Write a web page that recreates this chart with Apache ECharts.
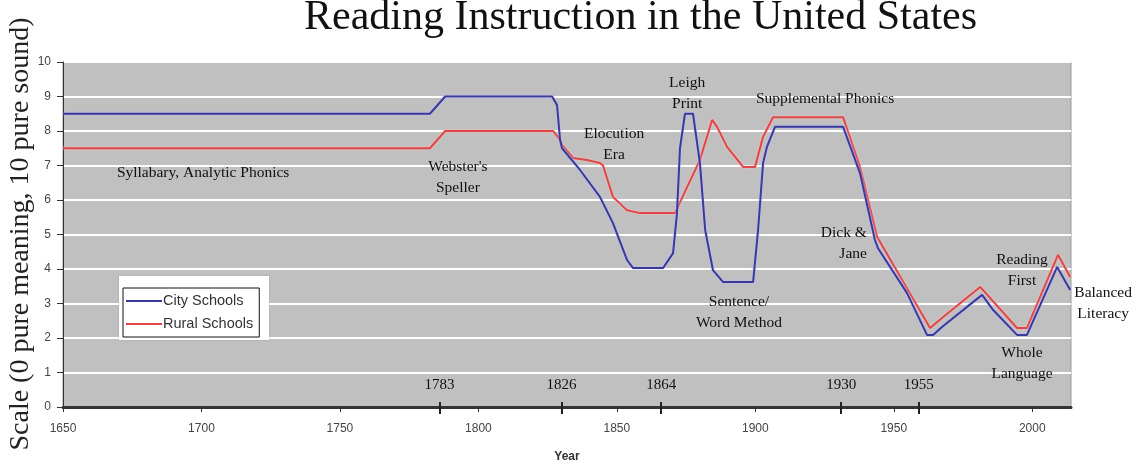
<!DOCTYPE html>
<html>
<head>
<meta charset="utf-8">
<script src="https://cdn.jsdelivr.net/npm/echarts@6/dist/echarts.min.js"></script>
<style>html,body{margin:0;padding:0;background:#fff;}#c{width:1136px;height:463px;}</style>
</head>
<body>
<div id="c"></div>
<script>
var cityYears = [1650, 1782.5, 1788, 1826.6, 1828.4, 1829.5, 1830.2, 1836.7, 1843.9, 1848.6, 1853.7, 1855.8, 1866.7, 1870.3, 1871.7, 1872.8, 1874.6, 1877.5, 1880.0, 1881.9, 1884.7, 1888.4, 1899.2, 1901.0, 1902.8, 1904.2, 1907.1, 1931.7, 1937.8, 1943.2, 1944.3, 1954.8, 1962.0, 1964.2, 1967.4, 1978.6, 1981.9, 1985.9, 1994.5, 1998.1, 2009.0, 2013.7];
var cityValues = [8.5, 8.5, 9.0, 9.0, 8.75, 7.74, 7.5, 6.87, 6.09, 5.33, 4.26, 4.03, 4.03, 4.46, 5.6, 7.5, 8.5, 8.5, 7.07, 5.13, 3.97, 3.62, 3.62, 5.13, 7.07, 7.54, 8.12, 8.12, 6.78, 4.84, 4.6, 3.3, 2.09, 2.09, 2.32, 3.04, 3.25, 2.81, 2.09, 2.09, 4.06, 3.39];
var ruralYears = [1650, 1782.5, 1788, 1827, 1829.5, 1830.2, 1834.2, 1839.2, 1843.9, 1845, 1848.6, 1853.7, 1858.4, 1871.0, 1875.4, 1880.0, 1884.4, 1886.2, 1889.8, 1895.6, 1899.9, 1902.8, 1906.4, 1931.7, 1937.8, 1944.0, 1963.1, 1967.4, 1981.2, 1994.5, 1998.1, 2009.3, 2013.7];
var ruralValues = [7.5, 7.5, 8.0, 8.0, 7.74, 7.6, 7.22, 7.16, 7.07, 7.0, 6.09, 5.7, 5.62, 5.62, 6.38, 7.16, 8.32, 8.12, 7.54, 6.96, 6.96, 7.83, 8.4, 8.4, 6.96, 4.93, 2.29, 2.58, 3.48, 2.29, 2.29, 4.41, 3.77];
var xTicks = [1650, 1700, 1750, 1800, 1850, 1900, 1950, 2000];
var eraTickYears = [1786, 1830, 1866, 1931, 1959];
var eraTickLabels = ['1783', '1826', '1864', '1930', '1955'];
var yTitle = 'Scale (0 pure meaning, 10 pure sound)';
var noteTexts = ['Syllabary, Analytic Phonics', "Webster's\nSpeller", 'Elocution\nEra', 'Leigh\nPrint', 'Supplemental Phonics', 'Sentence/\nWord Method', 'Dick &\nJane', 'Reading\nFirst', 'Balanced\nLiteracy', 'Whole\nLanguage'];
var noteYears = [1700.6, 1792.6, 1849.0, 1875.4, 1925.2, 1894.1, 1940.3, 1996.3, 2025.6, 1996.3];
var noteValues = [6.78, 6.65, 7.62, 9.09, 8.93, 2.74, 4.75, 3.97, 3.0, 1.25];
var noteAlign = ['center', 'center', 'center', 'center', 'center', 'center', 'right', 'center', 'center', 'center'];

function zip(a, b) { return a.map(function (v, i) { return [v, b[i]]; }); }

var serif = 'Liberation Serif';
var sans = 'Liberation Sans';

var chart = echarts.init(document.getElementById('c'), null, {renderer: 'canvas'});
chart.setOption({
  animation: false,
  backgroundColor: '#fff',
  title: {
    text: 'Reading Instruction in the United States',
    left: 299, top: -8,
    textStyle: {fontFamily: serif, fontSize: 42, fontWeight: 'normal', color: '#111'}
  },
  grid: {left: 63, right: 65, top: 62, bottom: 56, outerBoundsMode: 'none', containLabel: false,
    show: true, backgroundColor: '#c0c0c0', borderColor: '#9a9a9a', borderWidth: 1},
  legend: {
    data: ['City Schools', 'Rural Schools'],
    orient: 'vertical', left: 123, top: 288,
    icon: 'rect', itemWidth: 36, itemHeight: 2, itemGap: 7,
    padding: [5, 6, 5, 3],
    backgroundColor: '#fff', borderColor: '#111', borderWidth: 1,
    textStyle: {fontFamily: sans, fontSize: 14.5, color: '#333', padding: [0, 0, 0, -4], lineHeight: 16}
  },
  graphic: [
    {type: 'rect', z: 3, shape: {x: 119, y: 276, width: 150, height: 64}, style: {fill: '#fff', shadowColor: 'rgba(0,0,0,0.15)', shadowBlur: 2}},
    {type: 'text', z: 5, x: 21, y: 234, rotation: Math.PI / 2,
      style: {text: yTitle, fontFamily: serif, fontSize: 28, fill: '#222', align: 'center', verticalAlign: 'middle'}}
  ],
  xAxis: [{
    type: 'value', min: 1650, max: 2014, interval: 50,
    name: 'Year', nameLocation: 'middle', nameGap: 44,
    nameTextStyle: {fontFamily: sans, fontSize: 12, fontWeight: 'bold', color: '#333'},
    axisLine: {show: true, onZero: false, lineStyle: {color: '#333', width: 3}},
    axisTick: {show: true, customValues: xTicks, length: 5, lineStyle: {color: '#333', width: 1}},
    axisLabel: {customValues: xTicks, margin: 16, fontFamily: sans, fontSize: 12, color: '#444',
      formatter: function (v) { return String(v); }},
    splitLine: {show: false}
  }, {
    type: 'value', min: 1650, max: 2014, position: 'bottom', offset: -5,
    axisLine: {show: false},
    axisTick: {show: true, customValues: eraTickYears, length: 12, lineStyle: {color: '#222', width: 2}},
    axisLabel: {customValues: eraTickYears, inside: true, margin: 9, fontFamily: serif, fontSize: 15, color: '#111',
      formatter: function (v) { var i = eraTickYears.indexOf(v); return i >= 0 ? eraTickLabels[i] : ''; }},
    splitLine: {show: false}
  }],
  yAxis: {
    type: 'value', min: 0, max: 10, interval: 1,
    axisLine: {show: true, lineStyle: {color: '#333', width: 1}},
    axisTick: {show: true, length: 6, lineStyle: {color: '#333'}},
    axisLabel: {margin: 12, fontFamily: sans, fontSize: 12, color: '#444'},
    splitLine: {show: true, lineStyle: {color: '#fff', width: 2}}
  },
  series: [{
    name: 'City Schools', type: 'line', symbol: 'none', xAxisIndex: 0,
    data: zip(cityYears, cityValues),
    lineStyle: {color: '#3a3a9a', width: 2, shadowColor: 'rgba(190,190,255,0.9)', shadowBlur: 3},
    itemStyle: {color: '#3a3a9a'}, z: 3
  }, {
    name: 'Rural Schools', type: 'line', symbol: 'none', xAxisIndex: 0,
    data: zip(ruralYears, ruralValues),
    lineStyle: {color: '#e04848', width: 2, shadowColor: 'rgba(255,190,190,0.9)', shadowBlur: 3},
    itemStyle: {color: '#e04848'}, z: 2
  }, {
    name: 'notes', type: 'scatter', symbolSize: 0, clip: false, xAxisIndex: 0, silent: true,
    itemStyle: {opacity: 1},
    data: noteTexts.map(function (t, i) {
      return {value: [noteYears[i], noteValues[i]], name: t,
        label: {show: true, position: 'inside', align: noteAlign[i], formatter: t}};
    }),
    label: {fontFamily: serif, fontSize: 15.5, color: '#111', opacity: 1, lineHeight: 21},
    z: 5
  }]
});
</script>
</body>
</html>
